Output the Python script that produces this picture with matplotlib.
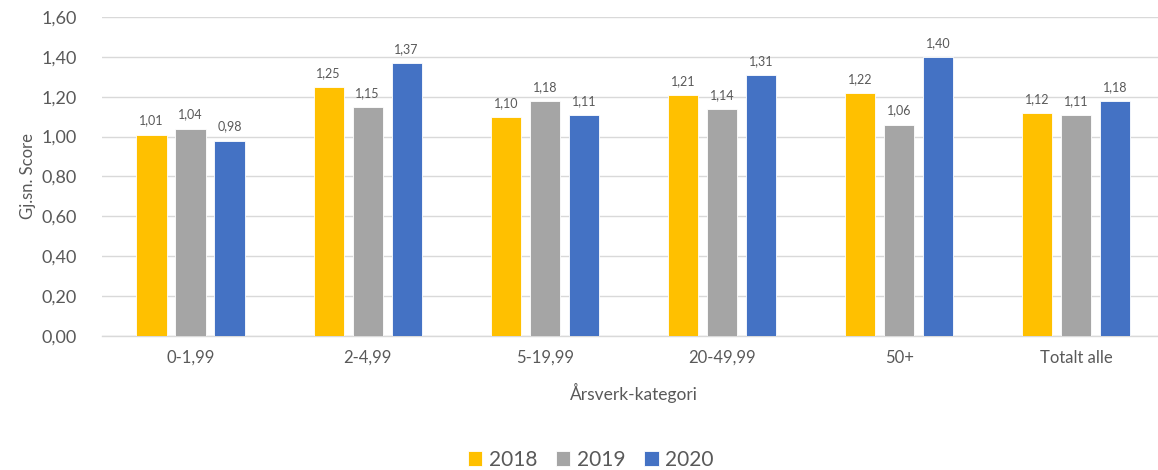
import matplotlib
matplotlib.use('Agg')
import matplotlib.pyplot as plt
import numpy as np

categories = ['0-1,99', '2-4,99', '5-19,99', '20-49,99', '50+', 'Totalt alle']
years = ['2018', '2019', '2020']
v2018 = [1.01, 1.25, 1.10, 1.21, 1.22, 1.12]
v2019 = [1.04, 1.15, 1.18, 1.14, 1.06, 1.11]
v2020 = [0.98, 1.37, 1.11, 1.31, 1.40, 1.18]
colors = ['#FFC000', '#A5A5A5', '#4472C4']

plt.rcParams['font.family'] = ['Lato', 'DejaVu Sans']
txt = '#595959'

fig = plt.figure(figsize=(11.58, 4.70), dpi=100)
ax = fig.add_axes([0.088, 0.285, 0.918, 0.679])

x = np.arange(len(categories))
w = 0.17
step = 0.22
for i, (vals, yr) in enumerate(zip([v2018, v2019, v2020], years)):
    pos = x + (i - 1) * step
    ax.bar(pos, vals, w, color=colors[i], label=yr, zorder=3,
           edgecolor='white', linewidth=0.6)
    for p, v in zip(pos, vals):
        ax.text(p, v + 0.04, ('%.2f' % v).replace('.', ','), ha='center',
                va='bottom', fontsize=9, color=txt)

ax.set_xlim(-0.5, len(categories) - 0.5)
ax.set_ylim(0, 1.6)
ax.set_yticks(np.arange(0, 1.61, 0.2))
ax.set_yticklabels([('%.2f' % t).replace('.', ',') for t in np.arange(0, 1.61, 0.2)],
                   fontsize=13, color=txt)
ax.set_xticks(x)
ax.set_xticklabels(categories, fontsize=12, color=txt)
ax.tick_params(axis='both', length=0)
ax.tick_params(axis='x', pad=10)
ax.tick_params(axis='y', pad=18)
ax.grid(axis='y', color='#D9D9D9', linewidth=1, zorder=0)
for s in ['top', 'right', 'left']:
    ax.spines[s].set_visible(False)
ax.spines['bottom'].set_color('#D9D9D9')
ax.spines['bottom'].set_linewidth(1)

ax.set_xlabel('Årsverk-kategori', fontsize=12.5, color=txt, labelpad=12)
ax.set_ylabel('Gj.sn. Score', fontsize=12, color=txt, labelpad=4)

fig.legend(loc='center', bbox_to_anchor=(0.51, 0.022), ncol=3, frameon=False,
           fontsize=15, handlelength=0.7, handleheight=0.7, handletextpad=0.3,
           columnspacing=0.9, labelcolor=txt)

fig.savefig('out.png', dpi=100)
